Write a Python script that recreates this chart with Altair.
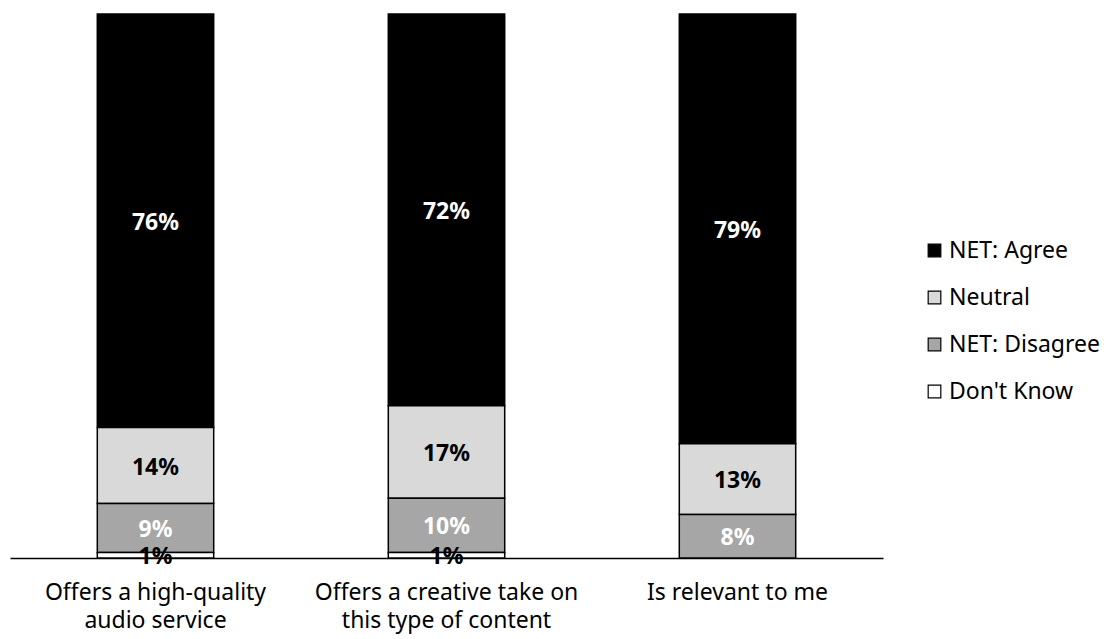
import altair as alt
import pandas as pd

categories = ["Offers a high-quality|audio service",
              "Offers a creative take on|this type of content",
              "Is relevant to me"]
series = ["NET: Agree", "Neutral", "NET: Disagree", "Don't Know"]
agree = [76, 72, 79]
neutral = [14, 17, 13]
disagree = [9, 10, 8]
dont_know = [1, 1, 0]
colors = ["#000000", "#d9d9d9", "#a6a6a6", "#ffffff"]
label_colors = ["#ffffff", "#000000", "#ffffff", "#000000"]
stack_rank = {"Don't Know": 0, "NET: Disagree": 1, "Neutral": 2, "NET: Agree": 3}

rows = []
for i, c in enumerate(categories):
    for s, vals in zip(series, [agree, neutral, disagree, dont_know]):
        v = vals[i]
        if v > 0:
            rows.append({"category": c, "series": s, "value": v,
                         "rank": stack_rank[s], "label": f"{v}%"})
df = pd.DataFrame(rows)

font = "Noto Sans"

base = alt.Chart(df).transform_stack(
    stack="value", groupby=["category"], sort=[alt.SortField("rank", "ascending")],
    as_=["y0", "y1"]
).transform_calculate(mid="(datum.y0 + datum.y1) / 2")

xenc = alt.X("category:N", sort=categories, title=None,
             scale=alt.Scale(paddingInner=0.6, paddingOuter=0.3),
             axis=alt.Axis(labelExpr="split(datum.label, '|')", labelAngle=0,
                           labelFont=font, labelFontSize=23, labelColor="#000000",
                           labelPadding=23, labelLineHeight=28, labelLimit=0, ticks=False,
                           domainColor="#000000", domainWidth=1.5))

bars = base.mark_bar(stroke="#000000", strokeWidth=1.5).encode(
    x=xenc,
    y=alt.Y("y0:Q", scale=alt.Scale(domain=[0, 100]), axis=None),
    y2="y1:Q",
    color=alt.Color("series:N",
                    scale=alt.Scale(domain=series, range=colors),
                    legend=alt.Legend(title=None, orient="none", legendX=913, legendY=225,
                                      symbolType="square", symbolSize=160,
                                      symbolStrokeColor="#000000", symbolStrokeWidth=1.2,
                                      labelFont=font, labelFontSize=23, labelColor="#000000",
                                      rowPadding=23, labelOffset=3, labelLimit=0)),
)

text = base.mark_text(font=font, fontSize=23, fontWeight="bold", baseline="middle", dy=2).encode(
    x=alt.X("category:N", sort=categories),
    y=alt.Y("mid:Q"),
    text="label:N",
    color=alt.Color("series:N", scale=alt.Scale(domain=series, range=label_colors), legend=None),
)

chart = alt.layer(bars, text).resolve_scale(color="independent").properties(
    width=873, height=544,
    autosize=alt.AutoSizeParams(type="none"),
    padding={"left": 2, "top": 6, "right": 219, "bottom": 81},
).configure_view(stroke=None).configure_axis(grid=False)

chart.save("out.html", embed_options={"renderer": "svg", "actions": False})
